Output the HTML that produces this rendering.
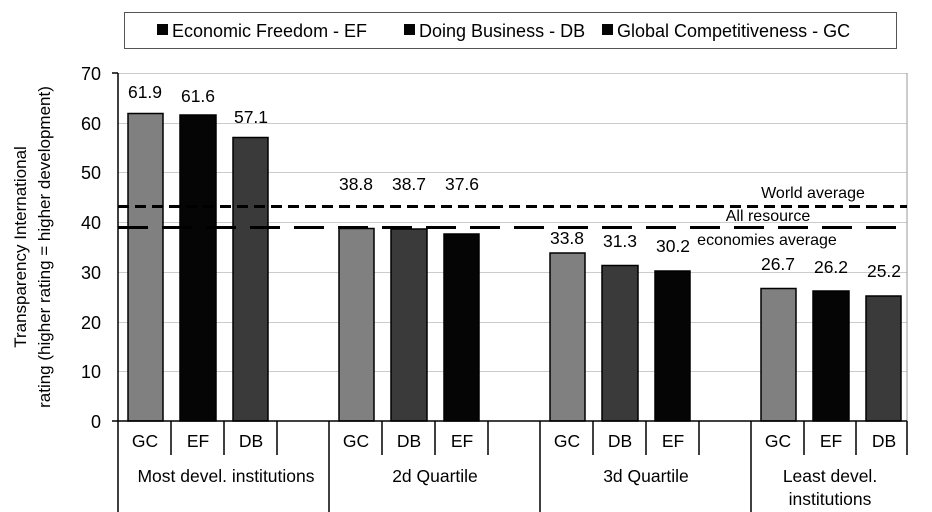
<!DOCTYPE html><html><head><style>body{margin:0;background:#fff}svg{display:block}text{font-family:"Liberation Sans",sans-serif;fill:#000}</style></head><body>
<svg width="932" height="512" viewBox="0 0 932 512">
<rect x="124.5" y="12.5" width="772" height="36" fill="#fff" stroke="#555"/>
<g font-size="18">
<rect x="157" y="24" width="11" height="11" fill="#050505"/><text x="172" y="37">Economic Freedom - EF</text>
<rect x="404" y="24" width="11" height="11" fill="#050505"/><text x="419" y="37">Doing Business - DB</text>
<rect x="602" y="24" width="11" height="11" fill="#050505"/><text x="617" y="37">Global Competitiveness - GC</text>
</g>
<g stroke="#ccc" stroke-width="1">
<line x1="118" x2="907" y1="73.5" y2="73.5"/><line x1="118" x2="907" y1="123.5" y2="123.5"/><line x1="118" x2="907" y1="172.5" y2="172.5"/><line x1="118" x2="907" y1="222.5" y2="222.5"/><line x1="118" x2="907" y1="272.5" y2="272.5"/><line x1="118" x2="907" y1="322.5" y2="322.5"/><line x1="118" x2="907" y1="371.5" y2="371.5"/>
</g>
<line x1="907" x2="907" y1="73" y2="421" stroke="#999"/>
<g font-size="18" text-anchor="end">
<text x="101" y="80">70</text><text x="101" y="130">60</text><text x="101" y="179">50</text><text x="101" y="229">40</text><text x="101" y="279">30</text><text x="101" y="329">20</text><text x="101" y="378">10</text><text x="101" y="428">0</text>
</g>
<g stroke="#000" stroke-width="1.5">
<rect x="128" y="113.5" width="35" height="307.5" fill="#808080"/>
<rect x="180" y="115" width="36" height="306" fill="#050505"/>
<rect x="233" y="137.5" width="35" height="283.5" fill="#3a3a3a"/>
<rect x="339" y="228.5" width="35" height="192.5" fill="#808080"/>
<rect x="391" y="229" width="36" height="192" fill="#3a3a3a"/>
<rect x="444" y="234" width="35" height="187" fill="#050505"/>
<rect x="550" y="253" width="35" height="168" fill="#808080"/>
<rect x="602" y="265.5" width="36" height="155.5" fill="#3a3a3a"/>
<rect x="655" y="271" width="35" height="150" fill="#050505"/>
<rect x="761" y="288.5" width="35" height="132.5" fill="#808080"/>
<rect x="813" y="291" width="36" height="130" fill="#050505"/>
<rect x="866" y="296" width="35" height="125" fill="#3a3a3a"/>
</g>
<line x1="118" x2="907" y1="206.5" y2="206.5" stroke="#000" stroke-width="3" stroke-dasharray="11,6"/>
<line x1="118" x2="907" y1="227.5" y2="227.5" stroke="#000" stroke-width="3" stroke-dasharray="30,14"/>
<g font-size="17.5" text-anchor="middle">
<text x="145" y="98">61.9</text><text x="198" y="102">61.6</text><text x="251" y="123">57.1</text>
<text x="356" y="190">38.8</text><text x="409" y="190">38.7</text><text x="462" y="190">37.6</text>
<text x="567" y="244">33.8</text><text x="620" y="247">31.3</text><text x="673" y="252">30.2</text>
<text x="778" y="270">26.7</text><text x="831" y="273">26.2</text><text x="884" y="277">25.2</text>
<text x="813" y="198" font-size="16">World average</text>
<text x="768" y="221" font-size="16">All resource</text>
<text x="767" y="245" font-size="16">economies average</text>
</g>
<g stroke="#000" stroke-width="1.5">
<line x1="112" x2="907" y1="421" y2="421"/>
<line x1="118" x2="118" y1="73" y2="512"/>
<line x1="112" x2="118" y1="73" y2="73"/>
<line x1="171" x2="171" y1="421" y2="455"/><line x1="224" x2="224" y1="421" y2="455"/><line x1="277" x2="277" y1="421" y2="455"/>
<line x1="329" x2="329" y1="421" y2="512"/>
<line x1="382" x2="382" y1="421" y2="455"/><line x1="435" x2="435" y1="421" y2="455"/><line x1="488" x2="488" y1="421" y2="455"/>
<line x1="540" x2="540" y1="421" y2="512"/>
<line x1="593" x2="593" y1="421" y2="455"/><line x1="646" x2="646" y1="421" y2="455"/><line x1="699" x2="699" y1="421" y2="455"/>
<line x1="751" x2="751" y1="421" y2="512"/>
<line x1="804" x2="804" y1="421" y2="455"/><line x1="856" x2="856" y1="421" y2="455"/><line x1="907" x2="907" y1="421" y2="455"/>
</g>
<g font-size="17.5" text-anchor="middle">
<text x="145" y="447">GC</text><text x="198" y="447">EF</text><text x="251" y="447">DB</text>
<text x="356" y="447">GC</text><text x="409" y="447">DB</text><text x="462" y="447">EF</text>
<text x="567" y="447">GC</text><text x="620" y="447">DB</text><text x="673" y="447">EF</text>
<text x="778" y="447">GC</text><text x="831" y="447">EF</text><text x="884" y="447">DB</text>
<text x="226" y="482">Most devel. institutions</text>
<text x="435" y="482">2d Quartile</text>
<text x="646" y="482">3d Quartile</text>
<text x="830" y="482">Least devel.</text>
<text x="830" y="505">institutions</text>
</g>
<g font-size="17" text-anchor="middle">
<text transform="translate(26,247) rotate(-90)">Transparency International</text>
<text transform="translate(50,247) rotate(-90)">rating (higher rating = higher development)</text>
</g>
</svg></body></html>
